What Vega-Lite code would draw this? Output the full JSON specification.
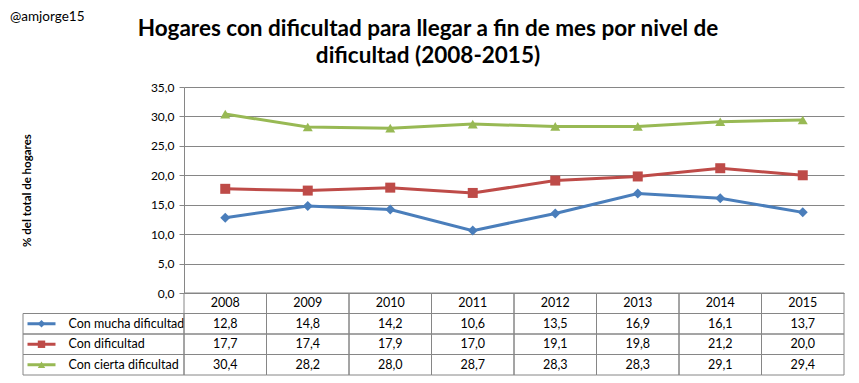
{
  "$schema": "https://vega.github.io/schema/vega-lite/v6.json",
  "padding": {"left": 10, "top": 9, "right": 14, "bottom": 8},
  "background": "white",
  "config": {
    "font": "Lato",
    "locale": {"number": {"decimal": ",", "thousands": ".", "grouping": [3], "currency": ["", " €"]}},
    "view": {"stroke": null},
    "text": {"font": "Lato"},
    "title": {"font": "Lato", "color": "#000000"}
  },
  "datasets": {
    "d": [
      {"year": "2008", "serie": "Con mucha dificultad", "valor": 12.8},
      {"year": "2009", "serie": "Con mucha dificultad", "valor": 14.8},
      {"year": "2010", "serie": "Con mucha dificultad", "valor": 14.2},
      {"year": "2011", "serie": "Con mucha dificultad", "valor": 10.6},
      {"year": "2012", "serie": "Con mucha dificultad", "valor": 13.5},
      {"year": "2013", "serie": "Con mucha dificultad", "valor": 16.9},
      {"year": "2014", "serie": "Con mucha dificultad", "valor": 16.1},
      {"year": "2015", "serie": "Con mucha dificultad", "valor": 13.7},
      {"year": "2008", "serie": "Con dificultad", "valor": 17.7},
      {"year": "2009", "serie": "Con dificultad", "valor": 17.4},
      {"year": "2010", "serie": "Con dificultad", "valor": 17.9},
      {"year": "2011", "serie": "Con dificultad", "valor": 17.0},
      {"year": "2012", "serie": "Con dificultad", "valor": 19.1},
      {"year": "2013", "serie": "Con dificultad", "valor": 19.8},
      {"year": "2014", "serie": "Con dificultad", "valor": 21.2},
      {"year": "2015", "serie": "Con dificultad", "valor": 20.0},
      {"year": "2008", "serie": "Con cierta dificultad", "valor": 30.4},
      {"year": "2009", "serie": "Con cierta dificultad", "valor": 28.2},
      {"year": "2010", "serie": "Con cierta dificultad", "valor": 28.0},
      {"year": "2011", "serie": "Con cierta dificultad", "valor": 28.7},
      {"year": "2012", "serie": "Con cierta dificultad", "valor": 28.3},
      {"year": "2013", "serie": "Con cierta dificultad", "valor": 28.3},
      {"year": "2014", "serie": "Con cierta dificultad", "valor": 29.1},
      {"year": "2015", "serie": "Con cierta dificultad", "valor": 29.4}
    ]
  },
  "columns": 2,
  "spacing": 0,
  "bounds": "flush",
  "concat": [
    {
      "width": 161,
      "height": 206,
      "title": {"text": "@amjorge15", "anchor": "start", "frame": "group", "fontSize": 13.5, "fontWeight": "normal", "offset": 64, "dx": -13},
      "data": {"values": [{}]},
      "mark": {"type": "text"},
      "encoding": {"text": {"value": ""}}
    },
    {
      "width": 660,
      "height": 206,
      "title": {
        "text": ["Hogares con dificultad para llegar a fin de mes por nivel de", "dificultad (2008-2015)"],
        "anchor": "middle",
        "frame": "group",
        "fontSize": 22.5,
        "fontWeight": "bold",
        "lineHeight": 27,
        "dx": -86,
        "offset": 14
      },
      "data": {"name": "d"},
      "encoding": {
        "x": {"field": "year", "type": "ordinal", "scale": {"type": "point", "padding": 0.5}, "axis": null},
        "y": {
          "field": "valor",
          "type": "quantitative",
          "scale": {"domain": [0, 35], "nice": false},
          "axis": {
            "values": [0, 5, 10, 15, 20, 25, 30, 35],
            "format": ".1f",
            "grid": true,
            "gridColor": "#868686",
            "gridWidth": 1,
            "domainColor": "#868686",
            "tickColor": "#868686",
            "tickSize": 5,
            "labelFontSize": 12,
            "labelColor": "#000000",
            "labelPadding": 5,
            "title": "% del total de hogares",
            "titleFontSize": 11.5,
            "titleFontWeight": "bold",
            "titleColor": "#000000",
            "titlePadding": 118
          }
        },
        "color": {
          "field": "serie",
          "type": "nominal",
          "scale": {"domain": ["Con mucha dificultad", "Con dificultad", "Con cierta dificultad"], "range": ["#4A7EBB", "#BE4B48", "#98B954"]},
          "legend": null
        }
      },
      "layer": [
        {"mark": {"type": "line", "strokeWidth": 3}},
        {
          "mark": {"type": "point", "filled": true, "opacity": 1, "size": 100},
          "encoding": {
            "shape": {
              "field": "serie",
              "type": "nominal",
              "scale": {"domain": ["Con mucha dificultad", "Con dificultad", "Con cierta dificultad"], "range": ["diamond", "square", "triangle-up"]},
              "legend": null
            }
          }
        }
      ]
    },
    {
      "width": 161,
      "height": 82,
      "data": {"name": "d"},
      "transform": [{"filter": "datum.year == '2008'"}],
      "encoding": {
        "y": {
          "field": "serie",
          "type": "nominal",
          "scale": {"domain": ["Año", "Con mucha dificultad", "Con dificultad", "Con cierta dificultad"], "paddingInner": 0, "paddingOuter": 0},
          "axis": null
        }
      },
      "layer": [
        {"mark": {"type": "rect", "fill": "transparent", "stroke": "#868686", "strokeWidth": 1}},
        {
          "mark": {"type": "tick", "orient": "horizontal", "size": 28, "thickness": 3, "xOffset": -62, "opacity": 1},
          "encoding": {
            "color": {"field": "serie", "type": "nominal", "scale": {"domain": ["Con mucha dificultad", "Con dificultad", "Con cierta dificultad"], "range": ["#4A7EBB", "#BE4B48", "#98B954"]}, "legend": null}
          }
        },
        {
          "mark": {"type": "point", "filled": true, "opacity": 1, "size": 55, "xOffset": -62},
          "encoding": {
            "color": {"field": "serie", "type": "nominal", "scale": {"domain": ["Con mucha dificultad", "Con dificultad", "Con cierta dificultad"], "range": ["#4A7EBB", "#BE4B48", "#98B954"]}, "legend": null},
            "shape": {"field": "serie", "type": "nominal", "scale": {"domain": ["Con mucha dificultad", "Con dificultad", "Con cierta dificultad"], "range": ["diamond", "square", "triangle-up"]}, "legend": null}
          }
        },
        {
          "mark": {"type": "text", "align": "left", "dx": -35, "fontSize": 12.5, "fontWeight": "normal", "color": "#000000"},
          "encoding": {"text": {"field": "serie", "type": "nominal"}}
        }
      ]
    },
    {
      "width": 660,
      "height": 82,
      "data": {"name": "d"},
      "encoding": {
        "x": {"field": "year", "type": "ordinal", "scale": {"type": "band", "paddingInner": 0, "paddingOuter": 0}, "axis": null}
      },
      "layer": [
        {
          "mark": {"type": "rect", "fill": "transparent", "stroke": "#868686", "strokeWidth": 1},
          "encoding": {
            "y": {"field": "serie", "type": "nominal", "scale": {"domain": ["Año", "Con mucha dificultad", "Con dificultad", "Con cierta dificultad"], "paddingInner": 0, "paddingOuter": 0}, "axis": null}
          }
        },
        {
          "transform": [{"filter": "datum.serie == 'Con mucha dificultad'"}],
          "mark": {"type": "rect", "fill": "transparent", "stroke": "#868686", "strokeWidth": 1},
          "encoding": {"y": {"datum": "Año", "type": "nominal"}}
        },
        {
          "mark": {"type": "text", "fontSize": 12.5, "fontWeight": "normal", "color": "#000000"},
          "encoding": {
            "y": {"field": "serie", "type": "nominal"},
            "text": {"field": "valor", "type": "quantitative", "format": ".1f"}
          }
        },
        {
          "transform": [{"filter": "datum.serie == 'Con mucha dificultad'"}],
          "mark": {"type": "text", "fontSize": 12.5, "fontWeight": "normal", "color": "#000000"},
          "encoding": {
            "y": {"datum": "Año", "type": "nominal"},
            "text": {"field": "year", "type": "nominal"}
          }
        }
      ]
    }
  ]
}
